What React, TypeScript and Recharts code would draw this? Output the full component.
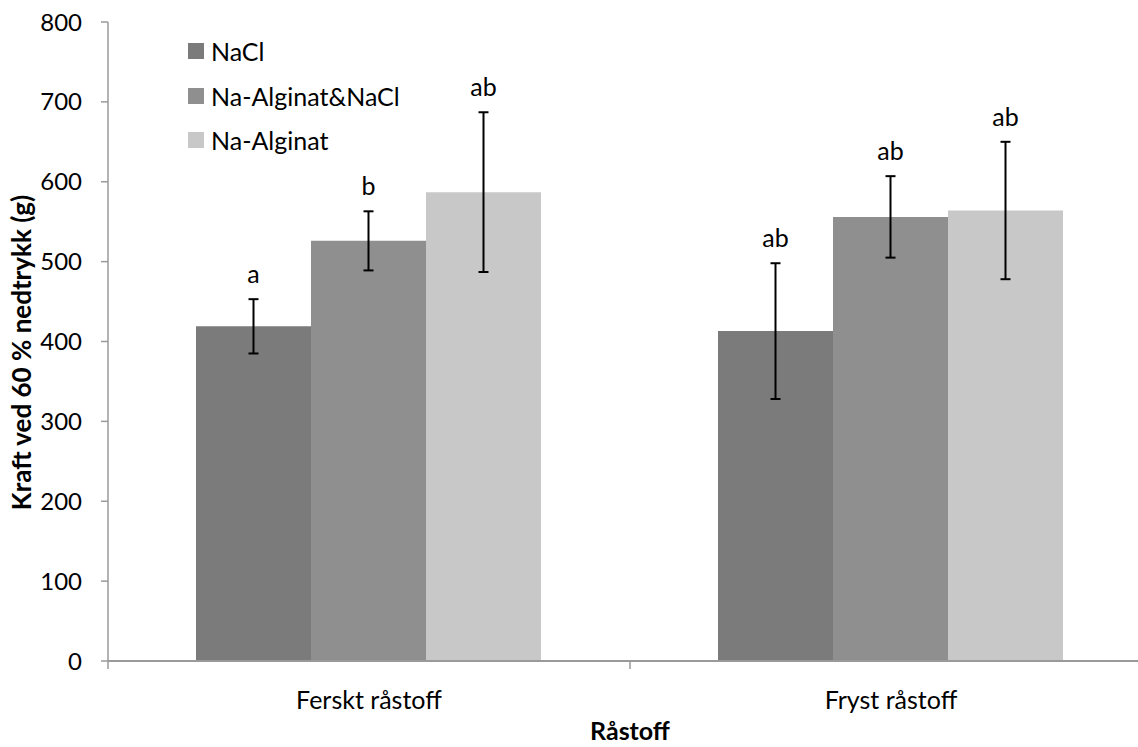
import React from 'react';
import {
  BarChart,
  Bar,
  XAxis,
  YAxis,
  ErrorBar,
  LabelList,
  Legend,
} from 'recharts';

// Raw values
const categories = ['Ferskt råstoff', 'Fryst råstoff'];
const seriesNames = ['NaCl', 'Na-Alginat&NaCl', 'Na-Alginat'];
const naclValues = [419, 413];
const naclErrors = [34, 85];
const mixValues = [526, 556];
const mixErrors = [37, 51];
const alginatValues = [587, 564];
const alginatErrors = [100, 86];
const naclLetters = ['a', 'ab'];
const mixLetters = ['b', 'ab'];
const alginatLetters = ['ab', 'ab'];
const yTicks = [0, 100, 200, 300, 400, 500, 600, 700, 800];

const COLORS = ['#7b7b7b', '#8f8f8f', '#c8c8c8'];
const FONT = 'Lato, "Open Sans", sans-serif';

const data = categories.map((name, i) => ({
  name,
  nacl: naclValues[i],
  naclErr: naclErrors[i],
  naclLetter: naclLetters[i],
  mix: mixValues[i],
  mixErr: mixErrors[i],
  mixLetter: mixLetters[i],
  alginat: alginatValues[i],
  alginatErr: alginatErrors[i],
  alginatLetter: alginatLetters[i],
}));

// letter placed above the top of the error bar
const makeLetterLabel = (valueKey: string, errKey: string) => (props: any) => {
  const { x, y, width, height, value, index } = props;
  const row: any = data[index];
  if (!row) return null;
  const pxPerUnit = height / row[valueKey];
  const errTop = y - row[errKey] * pxPerUnit;
  return (
    <text
      x={x + width / 2}
      y={errTop - 16}
      textAnchor="middle"
      fontFamily={FONT}
      fontSize={25}
      fill="#000"
    >
      {value}
    </text>
  );
};

const CategoryTick = (props: any) => {
  const { x, y, payload, width, visibleTicksCount, index } = props;
  const band = width && visibleTicksCount ? width / visibleTicksCount : 0;
  const left = x - band / 2;
  const right = x + band / 2;
  return (
    <g>
      {band > 0 && <line x1={left} y1={y} x2={left} y2={y + 8} stroke="#9a9a9a" strokeWidth={1.5} />}
      {band > 0 && index === visibleTicksCount - 1 && (
        <line x1={right} y1={y} x2={right} y2={y + 8} stroke="#9a9a9a" strokeWidth={1.5} />
      )}
      <text
        x={x}
        y={y + 38}
        textAnchor="middle"
        dominantBaseline="central"
        fontFamily={FONT}
        fontSize={25}
        fill="#000"
      >
        {payload.value}
      </text>
    </g>
  );
};

const YTitle = (props: any) => {
  const { viewBox } = props;
  if (!viewBox) return null;
  const cx = 21;
  const cy = viewBox.y + viewBox.height / 2 + 11;
  return (
    <text
      x={cx}
      y={cy}
      transform={`rotate(-90, ${cx}, ${cy})`}
      textAnchor="middle"
      dominantBaseline="central"
      fontFamily={FONT}
      fontSize={26}
      fontWeight={700}
      fill="#000"
    >
      Kraft ved 60 % nedtrykk (g)
    </text>
  );
};

const LegendContent = (props: any) => {
  const items = [...(props.payload || [])].sort(
    (a: any, b: any) => seriesNames.indexOf(a.value) - seriesNames.indexOf(b.value)
  );
  return (
    <div style={{ fontFamily: FONT }}>
      {items.map((entry: any) => (
        <div
          key={entry.value}
          style={{ display: 'flex', alignItems: 'center', height: 44.5 }}
        >
          <span
            style={{
              display: 'inline-block',
              width: 16,
              height: 16,
              background: entry.color,
              marginRight: 7,
            }}
          />
          <span style={{ fontSize: 25, color: '#000' }}>{entry.value}</span>
        </div>
      ))}
    </div>
  );
};

export default function App() {
  return (
    <div
      style={{
        position: 'absolute',
        left: 0,
        top: 0,
        width: 1138,
        height: 747,
        overflow: 'hidden',
        background: '#fff',
      }}
    >
      <BarChart
        width={1160}
        height={747}
        data={data}
        margin={{ top: 22, right: 8, left: 0, bottom: 0 }}
        barCategoryGap={88}
        barGap={0}
      >
        <XAxis
          dataKey="name"
          height={86}
          axisLine={{ stroke: '#9a9a9a', strokeWidth: 2 }}
          tickLine={false}
          tickSize={0}
          tickMargin={0}
          tick={<CategoryTick />}
          interval={0}
          label={{
            value: 'Råstoff',
            position: 'insideBottom',
            offset: 7,
            style: { fontFamily: FONT, fontSize: 25, fontWeight: 700, fill: '#000' },
          }}
        />
        <YAxis
          width={108}
          domain={[0, 800]}
          ticks={yTicks}
          interval={0}
          axisLine={{ stroke: '#9a9a9a', strokeWidth: 1.5 }}
          tickLine={{ stroke: '#9a9a9a', strokeWidth: 1.5 }}
          tickSize={7}
          tickMargin={19}
          tick={{ fontFamily: FONT, fontSize: 24, fill: '#000' }}
          label={<YTitle />}
        />
        <Legend
          layout="vertical"
          verticalAlign="middle"
          align="center"
          content={<LegendContent />}
          wrapperStyle={{ top: 29, left: 188, width: 260 }}
        />
        <Bar dataKey="nacl" name={seriesNames[0]} fill={COLORS[0]} isAnimationActive={false}>
          <ErrorBar dataKey="naclErr" width={5} stroke="#000" strokeWidth={2} direction="y" />
          <LabelList dataKey="naclLetter" content={makeLetterLabel('nacl', 'naclErr')} />
        </Bar>
        <Bar dataKey="mix" name={seriesNames[1]} fill={COLORS[1]} isAnimationActive={false}>
          <ErrorBar dataKey="mixErr" width={5} stroke="#000" strokeWidth={2} direction="y" />
          <LabelList dataKey="mixLetter" content={makeLetterLabel('mix', 'mixErr')} />
        </Bar>
        <Bar dataKey="alginat" name={seriesNames[2]} fill={COLORS[2]} isAnimationActive={false}>
          <ErrorBar dataKey="alginatErr" width={5} stroke="#000" strokeWidth={2} direction="y" />
          <LabelList dataKey="alginatLetter" content={makeLetterLabel('alginat', 'alginatErr')} />
        </Bar>
      </BarChart>
    </div>
  );
}
